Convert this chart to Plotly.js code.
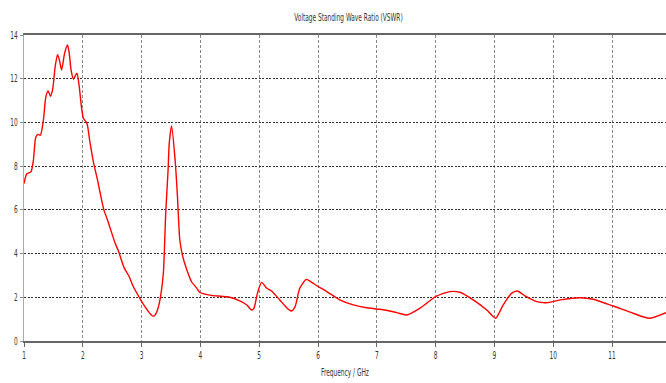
<!DOCTYPE html>
<html><head><meta charset="utf-8">
<script src="https://cdn.plot.ly/plotly-3.0.1.min.js"></script>
<style>html,body{margin:0;padding:0;background:#fff}#c{width:666px;height:383px}</style>
</head><body><div id="c"></div>
<script>
var freqGHz = [1.0,1.045,1.12,1.16,1.2,1.24,1.28,1.33,1.37,1.41,1.45,1.49,1.53,1.57,1.6,1.64,1.69,1.74,1.77,1.8,1.84,1.9,1.94,1.98,2.01,2.07,2.12,2.18,2.25,2.32,2.36,2.43,2.55,2.6,2.7,2.79,2.86,2.97,3.02,3.11,3.19,3.23,3.27,3.32,3.37,3.41,3.45,3.47,3.51,3.57,3.61,3.65,3.7,3.77,3.85,3.94,3.99,4.16,4.5,4.67,4.79,4.87,4.91,4.97,5.04,5.13,5.21,5.35,5.48,5.55,5.61,5.69,5.8,5.86,6.01,6.15,6.37,6.6,6.83,7.05,7.22,7.38,7.51,7.73,8.0,8.24,8.41,8.64,8.87,9.02,9.15,9.29,9.39,9.52,9.72,9.89,10.12,10.46,10.68,11.02,11.36,11.63,11.92];
var vswr = [7.2,7.64,7.75,8.28,9.32,9.45,9.42,10.1,11.15,11.44,11.2,11.56,12.55,13.1,12.88,12.4,13.16,13.54,13.16,12.4,11.98,12.25,11.63,10.64,10.19,9.96,9.12,8.2,7.37,6.45,5.99,5.46,4.47,4.16,3.37,2.94,2.48,1.95,1.72,1.37,1.14,1.19,1.42,2.0,3.1,5.84,7.8,9.04,9.84,8.28,6.6,4.62,3.86,3.25,2.71,2.41,2.22,2.1,2.0,1.84,1.65,1.42,1.49,2.18,2.68,2.41,2.29,1.88,1.49,1.37,1.57,2.41,2.82,2.74,2.48,2.26,1.88,1.65,1.52,1.45,1.37,1.27,1.19,1.49,2.03,2.26,2.23,1.88,1.42,1.04,1.65,2.18,2.29,2.06,1.8,1.75,1.88,1.98,1.91,1.6,1.27,1.04,1.3];
var xTicks = [1,2,3,4,5,6,7,8,9,10,11];
var yTicks = [0,2,4,6,8,10,12,14];
var chartTitle = 'Voltage Standing Wave Ratio (VSWR)';
var xTitle = 'Frequency / GHz';

var fnt = '"DejaVu Sans Condensed", "DejaVu Sans", sans-serif';
var txtCol = '#333';
Plotly.newPlot('c', [{
  x: freqGHz, y: vswr, type: 'scatter', mode: 'lines',
  line: {color: '#ff0000', width: 1.4, shape: 'spline', smoothing: 0.6},
  hoverinfo: 'skip'
}], {
  width: 666, height: 383,
  margin: {l: 24, r: 0, t: 35, b: 42},
  paper_bgcolor: '#fff', plot_bgcolor: '#fff',
  showlegend: false,
  title: {text: chartTitle, font: {family: fnt, size: 10, color: txtCol},
          x: 348.5/666, xref: 'container', xanchor: 'center', y: 1 - 18/383, yref: 'container', yanchor: 'middle'},
  xaxis: {range: [1, 1 + (666-24)/58.8], tickvals: xTicks, ticktext: xTicks.map(String),
          showgrid: true, gridcolor: '#888', griddash: '3px,2px', gridwidth: 1,
          showline: true, linecolor: '#666', linewidth: 1.6, mirror: true,
          ticks: 'outside', ticklen: 4, tickcolor: '#666', zeroline: false,
          tickfont: {family: fnt, size: 10, color: txtCol},
          title: {text: xTitle, font: {family: fnt, size: 10, color: txtCol}, standoff: 9}},
  yaxis: {range: [0, 14], tickvals: yTicks, ticktext: yTicks.map(String),
          showgrid: true, gridcolor: '#333', griddash: '2px,1.5px', gridwidth: 1,
          showline: true, linecolor: '#aaa', linewidth: 1.2,
          ticks: 'outside', ticklen: 3, tickcolor: '#888', zeroline: false,
          tickfont: {family: fnt, size: 10, color: txtCol}}
}, {staticPlot: true, displayModeBar: false}).then(function (gd) {
  // compress text horizontally to mimic the narrow original font
  var sel = gd.querySelectorAll('.gtitle, .g-xtitle text, .xtick text, .ytick text');
  sel.forEach(function (el) {
    var x = parseFloat(el.getAttribute('x')) || 0;
    var t = el.getAttribute('transform') || '';
    el.setAttribute('transform', t + ' translate(' + x + ',0) scale(0.65,1) translate(' + (-x) + ',0)');
  });
});
</script></body></html>
